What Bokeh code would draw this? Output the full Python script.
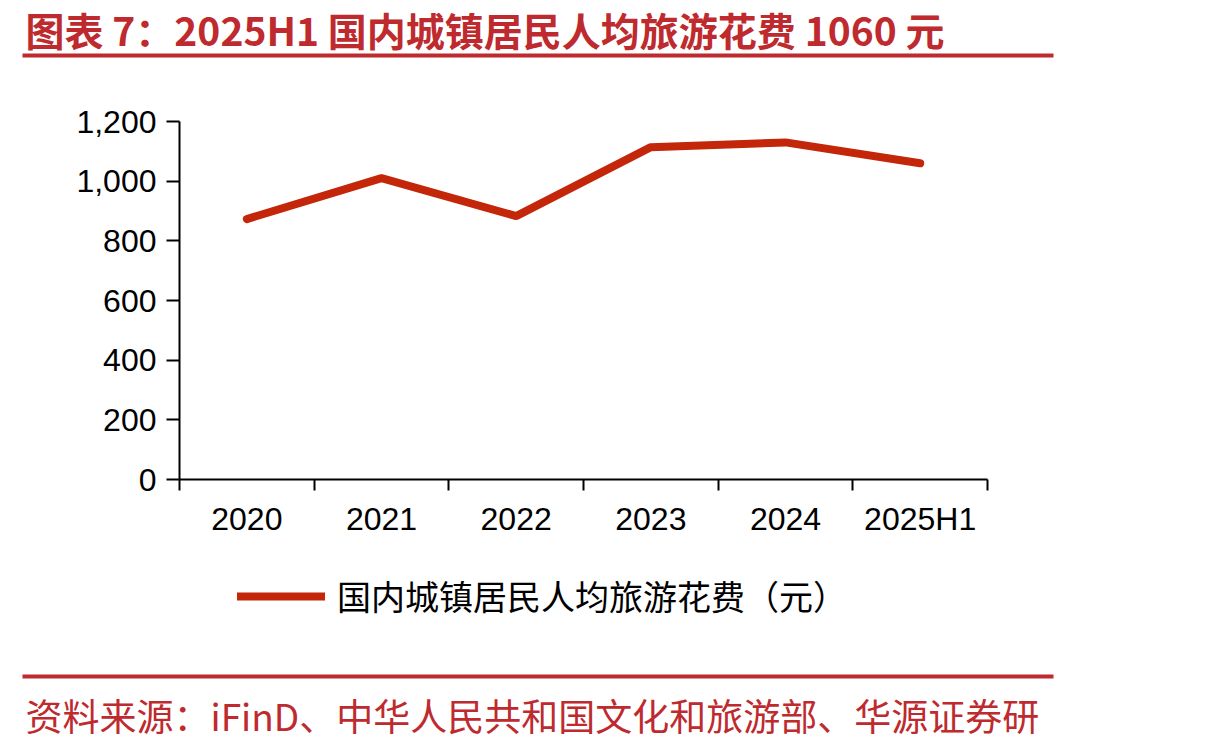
from bokeh.plotting import figure
from bokeh.models import Range1d, FixedTicker, NumeralTickFormatter, Legend, LegendItem
from bokeh.embed import file_html
from bokeh.resources import INLINE
from bokeh.core.properties import value

# ---- data ----
title_text = "图表 7：2025H1 国内城镇居民人均旅游花费 1060 元"
source_text = "资料来源：iFinD、中华人民共和国文化和旅游部、华源证券研"
categories = ["2020", "2021", "2022", "2023", "2024", "2025H1"]
spend = [873, 1010, 883, 1114, 1130, 1060]
series_name = "国内城镇居民人均旅游花费（元）"
y_ticks = [0, 200, 400, 600, 800, 1000, 1200]

# ---- layout / style ----
W, H = 1210, 748
FL, FR, FT, FB = 179, 987, 121, 479      # plot area in page pixels
RED = "#BE2A2E"
LINE = "#C4260A"
CJK = "Noto Sans CJK SC"
LATIN = "Liberation Sans"

n = len(categories)
xs = list(range(1, n + 1))
x_lo, x_hi = 0.5, n + 0.5
y_lo, y_hi = 0, 1200
kx = (x_hi - x_lo) / (FR - FL)
ky = (y_hi - y_lo) / (FB - FT)

p = figure(width=W, height=H,
           x_range=Range1d(x_lo - FL * kx, x_hi + (W - FR) * kx),
           y_range=Range1d(y_lo - (H - FB) * ky, y_hi + FT * ky),
           toolbar_location=None, output_backend="svg", min_border=0,
           outline_line_color=None)
p.grid.visible = False
p.extra_x_ranges = {"px": Range1d(0, W)}
p.extra_y_ranges = {"px": Range1d(H, 0)}

# data line
r = p.line(xs, spend, line_width=8, line_color=LINE, line_cap="round")

# x axis
xa = p.xaxis[0]
xa.fixed_location = y_lo
xa.bounds = (x_lo, x_hi)
xa.ticker = FixedTicker(ticks=xs, minor_ticks=[i + 0.5 for i in range(n + 1)])
xa.major_label_overrides = {x: c for x, c in zip(xs, categories)}
xa.major_tick_out = 0
xa.major_tick_in = 0
xa.minor_tick_out = 11
xa.minor_tick_in = 0
xa.minor_tick_line_width = 2
xa.minor_tick_line_color = "black"
xa.major_label_standoff = 10

# y axis
ya = p.yaxis[0]
ya.fixed_location = x_lo
ya.bounds = (y_lo, y_hi)
ya.ticker = FixedTicker(ticks=y_ticks)
ya.formatter = NumeralTickFormatter(format="0,0")
ya.major_tick_out = 13
ya.major_tick_in = 0
ya.minor_tick_out = 0
ya.minor_tick_in = 0
ya.major_label_standoff = 10
ya.major_tick_line_width = 2

for ax in (xa, ya):
    ax.axis_line_width = 2
    ax.axis_line_color = "black"
    ax.major_tick_line_color = "black"
    ax.major_label_text_font = LATIN
    ax.major_label_text_font_size = "32px"
    ax.major_label_text_color = "black"

# legend
legend = Legend(items=[LegendItem(label=series_name, renderers=[r])],
                location=(237, 128), orientation="horizontal",
                label_text_font=CJK, label_text_font_size="34px", label_text_color="black",
                glyph_width=88, glyph_height=40, label_height=40, label_standoff=12,
                padding=0, margin=0, border_line_color=None, background_fill_alpha=0)
p.add_layout(legend, "center")

# header: title + rule
p.text(x=[25], y=[0], text=[title_text], text_font=value(CJK),
       text_font_style="bold", text_font_size="39px", text_color=RED,
       text_baseline="top", text_align="left",
       x_range_name="px", y_range_name="px")
p.segment(x0=[22], y0=[55], x1=[1053], y1=[55], line_width=4, line_color=RED,
          x_range_name="px", y_range_name="px")

# footer: rule + source
p.segment(x0=[22], y0=[676], x1=[1053], y1=[676], line_width=4, line_color=RED,
          x_range_name="px", y_range_name="px")
p.text(x=[25], y=[714], text=[source_text], text_font=value(CJK),
       text_font_size="37px", text_color=RED,
       text_baseline="middle", text_align="left",
       x_range_name="px", y_range_name="px")

open("out.html", "w").write(file_html(p, INLINE))
